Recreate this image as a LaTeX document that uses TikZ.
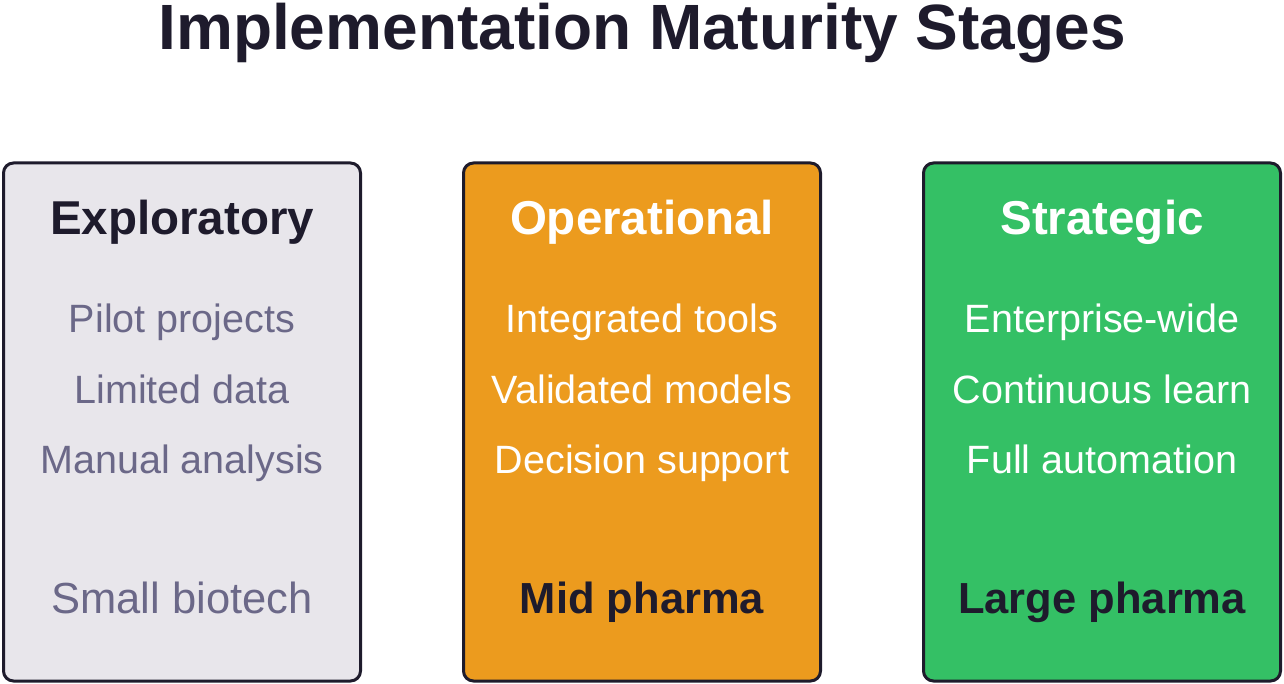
\documentclass[tikz,border=0pt]{standalone}
\usepackage{fontspec}
\setmainfont{Liberation Sans}
\definecolor{inkdark}{HTML}{1E1B2C}
\definecolor{mutedtext}{HTML}{6B6888}
\definecolor{paleFill}{HTML}{E8E6EB}
\definecolor{orangeFill}{HTML}{EC9B1E}
\definecolor{greenFill}{HTML}{34C065}
\tikzset{
  stagebox/.style={draw=inkdark, line width=3pt, rounded corners=10pt, minimum width=357pt, minimum height=518pt, inner sep=0pt},
  headtxt/.style={anchor=base, inner sep=0pt, font=\fontsize{47.5}{47.5}\selectfont\bfseries},
  itemtxt/.style={anchor=base, inner sep=0pt, font=\fontsize{39.5}{39.5}\selectfont},
  foottxt/.style={anchor=base, inner sep=0pt, font=\fontsize{43.5}{43.5}\selectfont},
  footbold/.style={anchor=base, inner sep=0pt, font=\fontsize{43.5}{43.5}\selectfont\bfseries},
}
\begin{document}
\begin{tikzpicture}[x=1pt, y=-1pt]
    \useasboundingbox (0,0) rectangle (1284,684);
    \node[anchor=base, inner sep=0pt, text=inkdark, font=\fontsize{64}{64}\selectfont\bfseries] (title) at (642,50) {Implementation Maturity Stages};
    \node[stagebox, fill=paleFill] (s1) at (182,422) {};
    \node[stagebox, fill=orangeFill] (s2) at (642,422) {};
    \node[stagebox, fill=greenFill] (s3) at (1102,422) {};
    \node[headtxt, text=inkdark] (s1h) at (182,235) {Exploratory};
    \node[itemtxt, text=mutedtext] (s1i1) at (182,333) {Pilot projects};
    \node[itemtxt, text=mutedtext] (s1i2) at (182,403) {Limited data};
    \node[itemtxt, text=mutedtext] (s1i3) at (182,473) {Manual analysis};
    \node[foottxt, text=mutedtext] (s1f) at (182,613) {Small biotech};
    \node[headtxt, text=white] (s2h) at (642,235) {Operational};
    \node[itemtxt, text=white] (s2i1) at (642,333) {Integrated tools};
    \node[itemtxt, text=white] (s2i2) at (642,403) {Validated models};
    \node[itemtxt, text=white] (s2i3) at (642,473) {Decision support};
    \node[footbold, text=inkdark] (s2f) at (642,613) {Mid pharma};
    \node[headtxt, text=white] (s3h) at (1102,235) {Strategic};
    \node[itemtxt, text=white] (s3i1) at (1102,333) {Enterprise-wide};
    \node[itemtxt, text=white] (s3i2) at (1102,403) {Continuous learn};
    \node[itemtxt, text=white] (s3i3) at (1102,473) {Full automation};
    \node[footbold, text=inkdark] (s3f) at (1102,613) {Large pharma};
  \end{tikzpicture}
\end{document}
